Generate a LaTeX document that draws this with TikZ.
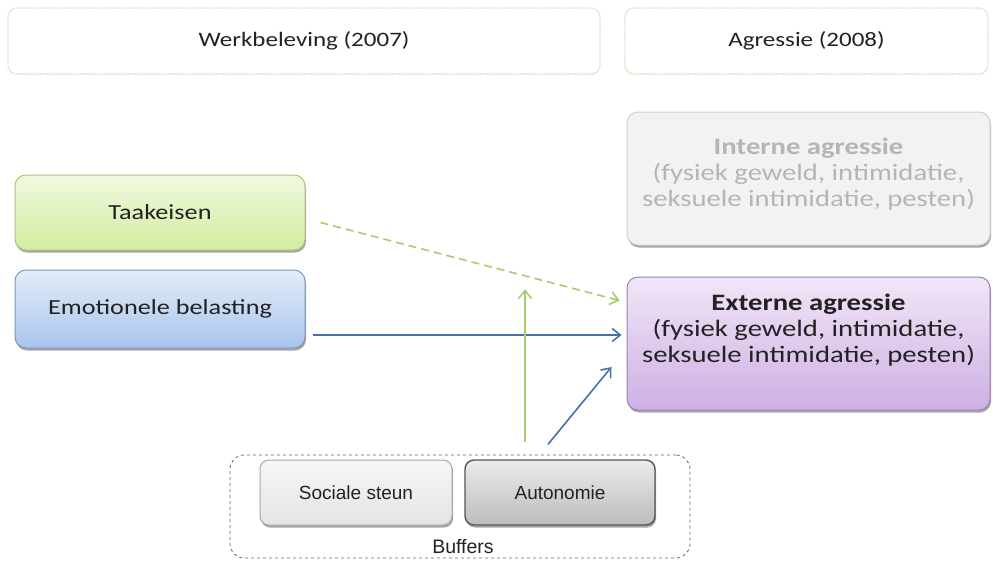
\documentclass[tikz,border=0pt]{standalone}
\usepackage{fontspec}
\setmainfont[FakeStretch=1.22]{Carlito}
\newfontfamily\helv{Liberation Sans}
\usetikzlibrary{shadows,calc,arrows.meta}
\definecolor{hdrborder}{HTML}{D6DBB8}
\definecolor{txtdark}{HTML}{222222}
\definecolor{grtop}{HTML}{F0F8E0}
\definecolor{grbot}{HTML}{D3EDA2}
\definecolor{grbord}{HTML}{A9C47F}
\definecolor{bltop}{HTML}{E3ECF8}
\definecolor{blbot}{HTML}{A9C4EC}
\definecolor{blbord}{HTML}{7896C4}
\definecolor{putop}{HTML}{F1E6F7}
\definecolor{pubot}{HTML}{CDB0E4}
\definecolor{pubord}{HTML}{9A82B4}
\definecolor{infill}{HTML}{F2F2F2}
\definecolor{inbord}{HTML}{CFCFCF}
\definecolor{intext}{HTML}{B5B5B5}
\definecolor{sotop}{HTML}{F6F6F6}
\definecolor{sobot}{HTML}{E4E4E4}
\definecolor{sobord}{HTML}{A8A8A8}
\definecolor{autop}{HTML}{EBEBEB}
\definecolor{aubot}{HTML}{BCBCBC}
\definecolor{aubord}{HTML}{555555}
\definecolor{grarrow}{HTML}{A6CC6E}
\definecolor{blarrow}{HTML}{4B6EA8}
\begin{document}
\begin{tikzpicture}[x=1pt,y=-1pt,
  header/.style={draw=hdrborder, densely dotted, line width=1.2pt, rounded corners=9pt, fill=white,
    minimum height=66pt, text=txtdark, font=\fontsize{20.5}{24}\selectfont,
    drop shadow={shadow xshift=0.5pt, shadow yshift=-1.5pt, opacity=0.15, fill=hdrborder}},
  box/.style={rounded corners=11pt, line width=1pt, align=center, text=txtdark,
    drop shadow={shadow xshift=1pt, shadow yshift=-2.5pt, opacity=0.35, fill=black}},
  leftbox/.style={box, minimum width=290pt, font=\fontsize{21.5}{25}\selectfont},
  rightbox/.style={box, minimum width=363pt, minimum height=133pt},
  righttext/.style={align=center, font=\fontsize{23.5}{26}\selectfont},
  bufbox/.style={box, rounded corners=9pt, minimum height=65pt, font=\helv\fontsize{19}{22}\selectfont},
  conn/.style={line width=1.6pt, -{Straight Barb[length=8pt,width=13pt,line width=1.6pt]}}
]
\useasboundingbox (0,0) rectangle (993,560);

\node[header, minimum width=592pt] (werk) at (304,41) {Werkbeleving (2007)};
\node[header, minimum width=363pt] (agr) at (806.5,41) {Agressie (2008)};

\node[rightbox, fill=infill, draw=inbord] (int) at (808.5,178.5) {};
\node[righttext, text=intext] (inttxt) at ([yshift=4pt]int.center)
  {\textbf{Interne agressie}\\(fysiek geweld, intimidatie,\\seksuele intimidatie, pesten)};
\node[rightbox, top color=putop, bottom color=pubot, draw=pubord] (ext) at (808.5,343.5) {};
\node[righttext, text=txtdark] (exttxt) at ([yshift=13pt]ext.center)
  {\textbf{Externe agressie}\\(fysiek geweld, intimidatie,\\seksuele intimidatie, pesten)};

\node[leftbox, minimum height=75pt, top color=grtop, bottom color=grbot, draw=grbord] (taak) at (160,212.5) {Taakeisen};
\node[leftbox, minimum height=78pt, top color=bltop, bottom color=blbot, draw=blbord] (emo) at (160,309) {Emotionele belasting};

\node[draw=black!60, dashed, rounded corners=14pt, line width=0.8pt, minimum width=460pt, minimum height=103pt] (buf) at (460,506.5) {};
\node[bufbox, minimum width=192pt, top color=sotop, bottom color=sobot, draw=sobord] (soc) at (356,492.5) {Sociale steun};
\node[bufbox, minimum width=190pt, top color=autop, bottom color=aubot, draw=aubord, line width=1.4pt] (aut) at (560,492.5) {Autonomie};
\node[font=\helv\fontsize{19.5}{22}\selectfont, text=txtdark] (buflbl) at (463,546.5) {Buffers};

% connectors
\draw[conn, grarrow, dash pattern=on 8pt off 5pt] ([xshift=15pt,yshift=-10pt]taak.east) -- ([xshift=-7pt,yshift=43pt]ext.west);
\coordinate (e1) at ([xshift=7pt,yshift=-26pt]emo.east);
\draw[conn, blarrow] (e1) -- ([xshift=-5pt]ext.west |- e1);
\draw[conn, blarrow] ([xshift=-12pt,yshift=15pt]aut.north) -- ([xshift=-15pt,yshift=-23.5pt]ext.west);
\coordinate (g1) at ([xshift=-35pt,yshift=17pt]aut.north);
\draw[conn, grarrow] (g1) -- ++(0,-153);
\end{tikzpicture}
\end{document}
